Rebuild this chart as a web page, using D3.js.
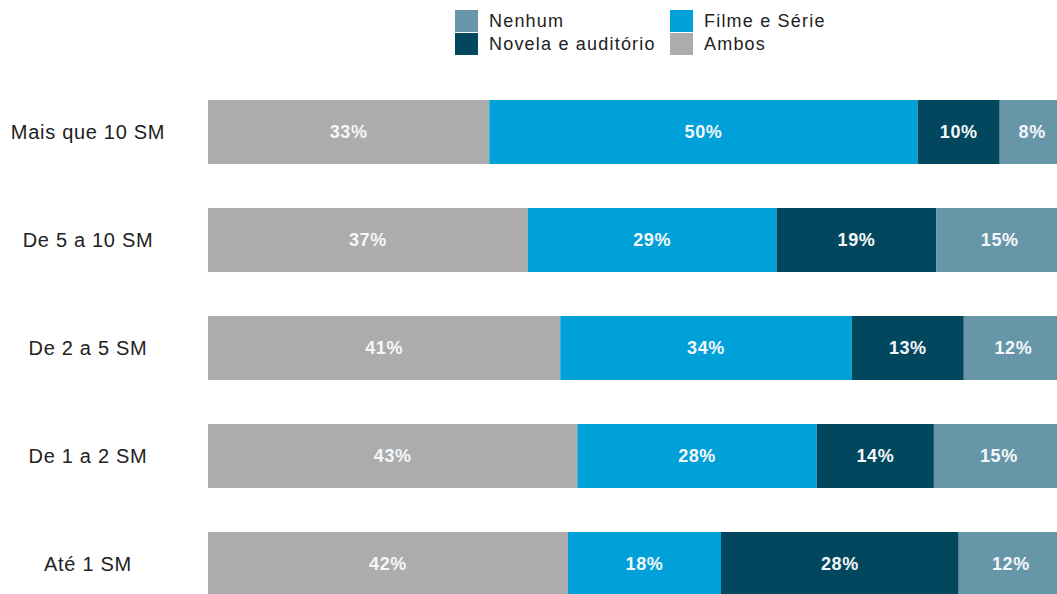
<!DOCTYPE html>
<html>
<head>
<meta charset="utf-8">
<script src="https://d3js.org/d3.v7.min.js"></script>
<style>
  body { margin: 0; background: #fff; }
  svg { display: block; font-family: "Liberation Sans", Arial, sans-serif; }
</style>
</head>
<body>
<div id="chart"></div>
<script>
// faixas de renda (de cima para baixo)
var categories = ["Mais que 10 SM", "De 5 a 10 SM", "De 2 a 5 SM", "De 1 a 2 SM", "Até 1 SM"];
// series, na ordem em que se empilham da esquerda para a direita
var seriesNames = ["Ambos", "Filme e Série", "Novela e auditório", "Nenhum"];
var ambos  = [32.9, 37.4, 41.2, 43.2, 42.1];
var filme  = [50.1, 29.1, 34.1, 28.0, 17.9];
var novela = [9.6, 18.7, 13.1, 13.7, 27.8];
var nenhum = [7.6, 14.8, 11.6, 15.2, 12.2];
var legendOrder = ["Nenhum", "Novela e auditório", "Filme e Série", "Ambos"];

var colors = {
  "Ambos": "#acacac",
  "Filme e Série": "#00a0d9",
  "Novela e auditório": "#03475f",
  "Nenhum": "#6896a9"
};

var width = 1057, height = 594;

var rows = categories.map(function(c, i) {
  return {cat: c, "Ambos": ambos[i], "Filme e Série": filme[i],
          "Novela e auditório": novela[i], "Nenhum": nenhum[i]};
});

var stack = d3.stack().keys(seriesNames);
var layers = stack(rows);

var x = d3.scaleLinear().domain([0, 100]).range([208, 1063]);
var y = d3.scaleBand().domain(categories).range([78, 618])
    .paddingInner(0.4074).paddingOuter(0.2037);

var svg = d3.select("#chart").append("svg")
    .attr("width", width)
    .attr("height", height);

var layer = svg.selectAll(".layer")
    .data(layers)
    .enter().append("g")
    .attr("class", "layer")
    .attr("fill", function(d) { return colors[d.key]; });

layer.selectAll("rect")
    .data(function(d) { return d; })
    .enter().append("rect")
    .attr("x", function(d) { return x(d[0]); })
    .attr("y", function(d) { return y(d.data.cat); })
    .attr("width", function(d) { return x(d[1]) - x(d[0]); })
    .attr("height", y.bandwidth());

layer.selectAll("text")
    .data(function(d) { return d; })
    .enter().append("text")
    .attr("x", function(d) { return (x(d[0]) + x(d[1])) / 2; })
    .attr("y", function(d) { return y(d.data.cat) + y.bandwidth() / 2; })
    .attr("dy", "0.36em")
    .attr("text-anchor", "middle")
    .attr("fill", "#f4f7f9")
    .attr("font-size", 18)
    .attr("font-weight", "bold")
    .style("letter-spacing", "0.6px")
    .text(function(d) { return Math.round(d[1] - d[0]) + "%"; });

// rotulos das faixas
svg.selectAll(".cat")
    .data(categories)
    .enter().append("text")
    .attr("class", "cat")
    .attr("x", 88)
    .attr("y", function(d) { return y(d) + y.bandwidth() / 2; })
    .attr("dy", "0.36em")
    .attr("text-anchor", "middle")
    .attr("font-size", 20)
    .style("letter-spacing", "0.7px")
    .attr("fill", "#222")
    .text(function(d) { return d; });

// legenda
var legend = svg.selectAll(".legend")
    .data(legendOrder)
    .enter().append("g")
    .attr("class", "legend")
    .attr("transform", function(d, i) {
      return "translate(" + (455 + Math.floor(i / 2) * 215) + "," + (10 + (i % 2) * 23) + ")";
    });

legend.append("rect")
    .attr("width", 23)
    .attr("height", 22)
    .attr("fill", function(d) { return colors[d]; });

legend.append("text")
    .attr("x", 34)
    .attr("y", 11)
    .attr("dy", "0.36em")
    .attr("font-size", 18)
    .style("letter-spacing", "1.2px")
    .attr("fill", "#222")
    .text(function(d) { return d; });
</script>
</body>
</html>
